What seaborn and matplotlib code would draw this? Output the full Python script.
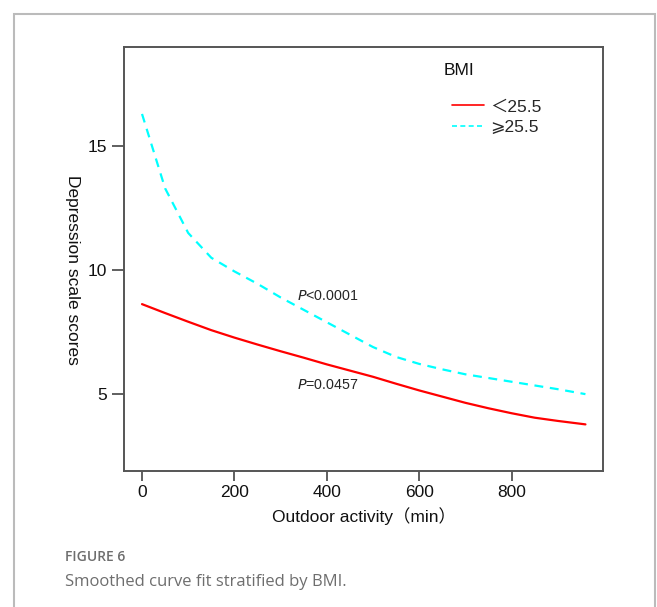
import numpy as np
import pandas as pd
import matplotlib.pyplot as plt
import matplotlib.patches as mpatches
from matplotlib.lines import Line2D
import seaborn as sns

# Curve values (outdoor activity in min vs depression score)
activity = [0, 50, 100, 150, 200, 250, 300, 350, 400, 450,
            500, 550, 600, 650, 700, 750, 800, 850, 900, 960]
score_low_bmi = [8.63, 8.27, 7.92, 7.58, 7.28, 7.00, 6.73, 6.47, 6.20, 5.95,
                 5.70, 5.42, 5.15, 4.90, 4.65, 4.43, 4.23, 4.05, 3.92, 3.78]
score_high_bmi = [16.3, 13.3, 11.5, 10.5, 9.95, 9.45, 8.90, 8.40, 7.90, 7.40,
                  6.90, 6.50, 6.22, 6.00, 5.80, 5.65, 5.50, 5.35, 5.20, 5.00]
groups = ['＜25.5', '⩾25.5']
x_ticks = [0, 200, 400, 600, 800]
y_ticks = [5, 10, 15]

df = pd.DataFrame({
    'activity': activity * 2,
    'score': score_low_bmi + score_high_bmi,
    'BMI': [groups[0]] * len(activity) + [groups[1]] * len(activity),
})

sns.set_style('ticks')
fonts = ['Liberation Sans', 'DejaVu Sans', 'Noto Sans CJK SC']
plt.rcParams['font.family'] = fonts
plt.rcParams['font.size'] = 12.5

fig = plt.figure(figsize=(6.57, 6.07), dpi=100)
ax = fig.add_axes([124 / 657, 1 - 471 / 607, (603 - 124) / 657, (471 - 47) / 607])

red = '#FF0000'
cyan = '#00FFFF'
sns.lineplot(data=df[df['BMI'] == groups[0]], x='activity', y='score',
             color=red, linewidth=1.6, ax=ax, legend=False)
sns.lineplot(data=df[df['BMI'] == groups[1]], x='activity', y='score',
             color=cyan, linewidth=1.6, ax=ax, legend=False,
             linestyle=(0, (4, 3)))

ax.set_xlim(-39, 998)
ax.set_ylim(1.9, 19.0)
ax.set_xticks(x_ticks)
ax.set_yticks(y_ticks)
ax.tick_params(axis='both', length=7, width=1.2, color='#444444',
               labelsize=12.5, labelcolor='#111111', pad=3)
ax.tick_params(axis='y', length=9)
for sp in ax.spines.values():
    sp.set_visible(True)
    sp.set_color('#555555')
    sp.set_linewidth(1.4)

ax.set_xlabel('Outdoor activity（min）', fontsize=12.5, color='#111111', labelpad=5,
              family=['Liberation Sans', 'Noto Sans CJK SC'])
ax.set_ylabel('Depression scale scores', fontsize=12.5, color='#111111',
              rotation=-90, va='center')
ax.yaxis.set_label_coords(-0.108, 0.474)

# P values
ax.text(335, 8.95, r'$\it{P}$<0.0001', fontsize=10.3, va='center', ha='left')
ax.text(335, 5.36, r'$\it{P}$=0.0457', fontsize=10.3, va='center', ha='left')

# legend: title as plain text, entries below it
ax.text(0.667, 0.944, 'BMI', transform=ax.transAxes, fontsize=12.5,
        ha='left', va='center', color='#111111')
handles = [Line2D([], [], color=red, lw=1.2),
           Line2D([], [], color=cyan, lw=1.2, linestyle=(0, (3, 2)))]
leg = ax.legend(handles, groups, frameon=False,
                loc='upper left', bbox_to_anchor=(0.685, 0.877),
                handlelength=1.85, borderpad=0, borderaxespad=0,
                handletextpad=0.35, labelspacing=0.32,
                prop={'family': fonts, 'size': 12.5})

# outer frame of the figure panel
fig.add_artist(mpatches.Rectangle((14 / 657, -0.1), (655 - 14) / 657, 1.1 - 14 / 607,
                                  transform=fig.transFigure, fill=False,
                                  edgecolor='#BBBBBB', linewidth=1.5))

fig.text(65 / 657, 1 - 557 / 607, 'FIGURE 6', fontsize=10, color='#6E6E6E',
         family='Open Sans', fontweight='semibold', va='center')
fig.text(65 / 657, 1 - 582 / 607, 'Smoothed curve fit stratified by BMI.', fontsize=12,
         color='#6E6E6E', family='Open Sans', va='center')

fig.savefig('out.png', dpi=100)
